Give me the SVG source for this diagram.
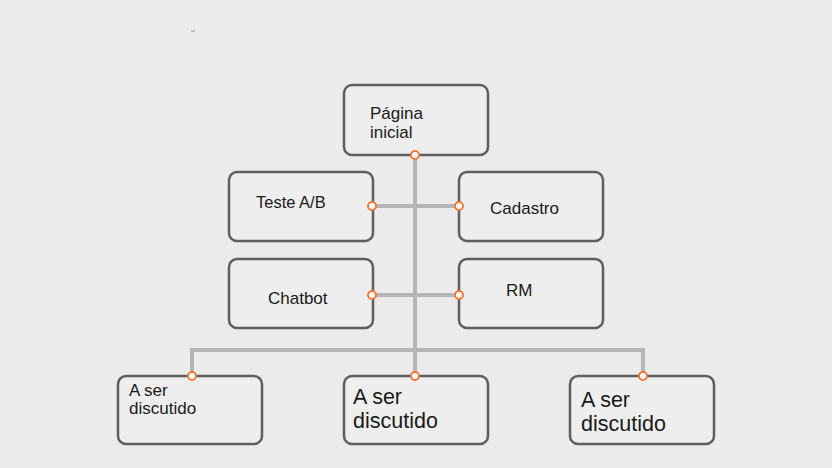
<svg xmlns="http://www.w3.org/2000/svg" width="832" height="468" viewBox="0 0 832 468">
<style>
.node{fill:#eeeeee;stroke:#5e5e5e;stroke-width:2.5}
.conn{fill:none;stroke:#b5b5b5;stroke-width:4}
.port{fill:#ffffff;stroke:#f07a3a;stroke-width:2}
text{font-family:"Liberation Sans",Arial,sans-serif;fill:#1a1a1a;font-size:17px}
</style>
<rect width="832" height="468" fill="#ebebeb"/>
<line x1="191" y1="31" x2="195" y2="31" stroke="#9a9a9a" stroke-width="1"/>
<g id="connectors">
<polyline class="conn" points="415,155 415,350"/>
<polyline class="conn" points="192,375 192,350 643,350 643,375"/>
<polyline class="conn" points="415,350 415,375"/>
<line class="conn" x1="373" y1="206" x2="459" y2="206"/>
<line class="conn" x1="373" y1="295" x2="459" y2="295"/>
</g>
<g id="n-pagina">
<rect class="node" x="344" y="85" width="144" height="70" rx="8"/>
<text x="370" y="119">Página</text>
<text x="370" y="138">inicial</text>
</g>
<g id="n-teste">
<rect class="node" x="229" y="172" width="144" height="69" rx="8"/>
<text x="256" y="208" style="font-size:16.5px">Teste A/B</text>
</g>
<g id="n-cadastro">
<rect class="node" x="459" y="172" width="144" height="69" rx="8"/>
<text x="490" y="214">Cadastro</text>
</g>
<g id="n-chatbot">
<rect class="node" x="229" y="259" width="144" height="69" rx="8"/>
<text x="268" y="304">Chatbot</text>
</g>
<g id="n-rm">
<rect class="node" x="459" y="259" width="144" height="69" rx="8"/>
<text x="506" y="296">RM</text>
</g>
<g id="n-left">
<rect class="node" x="118" y="376" width="144" height="68" rx="8"/>
<text x="129" y="396">A ser</text>
<text x="129" y="414">discutido</text>
</g>
<g id="n-mid">
<rect class="node" x="344" y="376" width="144" height="68" rx="8"/>
<text x="353" y="404" style="font-size:21.5px">A ser</text>
<text x="353" y="428" style="font-size:21.5px">discutido</text>
</g>
<g id="n-right">
<rect class="node" x="570" y="376" width="144" height="68" rx="8"/>
<text x="581" y="407" style="font-size:21.5px">A ser</text>
<text x="581" y="431" style="font-size:21.5px">discutido</text>
</g>
<g id="ports">
<circle class="port" cx="415" cy="155" r="4"/>
<circle class="port" cx="372" cy="206" r="4"/>
<circle class="port" cx="459" cy="206" r="4"/>
<circle class="port" cx="372" cy="295" r="4"/>
<circle class="port" cx="459" cy="295" r="4"/>
<circle class="port" cx="192" cy="376" r="4"/>
<circle class="port" cx="415" cy="376" r="4"/>
<circle class="port" cx="643" cy="376" r="4"/>
</g>
</svg>
